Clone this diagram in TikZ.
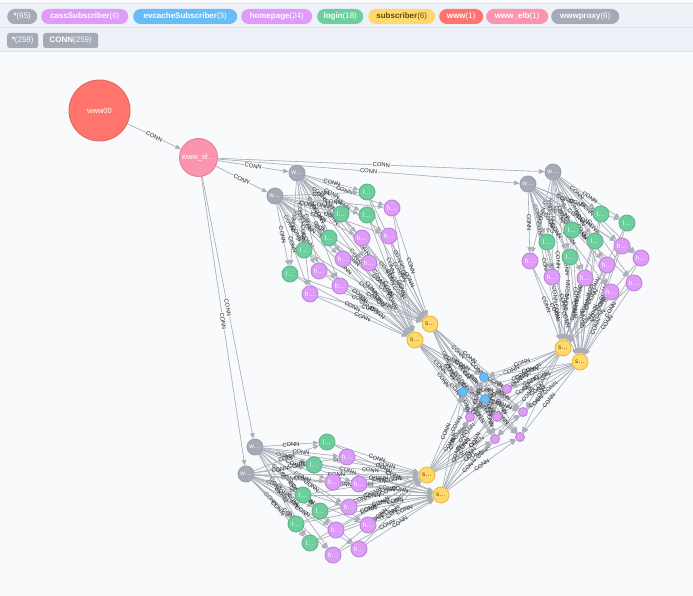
\documentclass[tikz,border=0pt]{standalone}
\usepackage{fontspec}
\setmainfont{Liberation Sans}
\usetikzlibrary{arrows.meta,calc}
\definecolor{bg}{HTML}{F9FAFB}
\definecolor{legbg}{HTML}{EEF1F8}
\definecolor{legline}{HTML}{DCE0E8}
\definecolor{cgray}{HTML}{A5ABB6}\definecolor{bgray}{HTML}{9AA1AC}
\definecolor{cred}{HTML}{FF756E}\definecolor{bred}{HTML}{E06760}
\definecolor{cpink}{HTML}{FB95AF}\definecolor{bpink}{HTML}{E0849B}
\definecolor{cgreen}{HTML}{6DCE9E}\definecolor{bgreen}{HTML}{60B58B}
\definecolor{cpurple}{HTML}{DE9BF9}\definecolor{bpurple}{HTML}{BF85D6}
\definecolor{cyellow}{HTML}{FFD86E}\definecolor{byellow}{HTML}{EDBA39}
\definecolor{cblue}{HTML}{68BDF6}\definecolor{bblue}{HTML}{5CA8DB}
\definecolor{tyellow}{HTML}{604A0E}
\definecolor{edgec}{HTML}{A9AEB8}
\pgfdeclarelayer{bgl}\pgfdeclarelayer{edges}
\pgfsetlayers{bgl,edges,main}
\newcommand\rel[2]{\draw[edge] (#1) -- node[lbl]{CONN} (#2);}
\newcommand\relf[2]{\draw[edge] (#1) -- node[lbl,fill=bg]{CONN} (#2);}
\begin{document}
\begin{tikzpicture}[x=1pt,y=-1pt,
  nd/.style={circle,inner sep=0pt,line width=0.9pt,font=\fontsize{6.5}{7}\selectfont,text=white},
  gw/.style={nd,fill=cgray,draw=bgray,minimum size=16pt},
  gl/.style={nd,fill=cgreen,draw=bgreen,minimum size=16pt},
  ph/.style={nd,fill=cpurple,draw=bpurple,minimum size=16pt},
  ys/.style={nd,fill=cyellow,draw=byellow,minimum size=16pt,text=tyellow},
  bl/.style={nd,fill=cblue,draw=bblue,minimum size=9pt},
  cs/.style={nd,fill=cpurple,draw=bpurple,minimum size=9pt},
  edge/.style={draw=edgec,line width=0.6pt,-{Triangle[length=5.5pt,width=4.5pt]},fill=edgec},
  lbl/.style={sloped,midway,font=\fontsize{5.8}{6}\selectfont,text=black!85,inner sep=0.6pt,fill=none},
  pill/.style={anchor=west,rounded corners=7.5pt,minimum height=15pt,inner sep=0pt,font=\fontsize{8}{9}\selectfont,text=white},
  tpill/.style={pill,rounded corners=2.5pt}]
\useasboundingbox (0,0) rectangle (693,596);
\begin{pgfonlayer}{bgl}
\fill[bg] (0,0) rectangle (693,596);
\fill[legbg] (0,3) rectangle (693,51.5);
\draw[legline,line width=0.8pt] (0,3) -- (693,3) (0,27.5) -- (693,27.5) (0,51.5) -- (693,51.5);
\end{pgfonlayer}
% legend
\node[pill,fill=cgray,minimum width=30pt] (L1) at (7,16.5) {\textbf{*}(65)};
\node[pill,fill=cpurple,minimum width=87pt] (L2) at (41,16.5) {\textbf{cassSubscriber}(6)};
\node[pill,fill=cblue,minimum width=104pt] (L3) at (133,16.5) {\textbf{evcacheSubscriber}(3)};
\node[pill,fill=cpurple,minimum width=71pt] (L4) at (241,16.5) {\textbf{homepage}(24)};
\node[pill,fill=cgreen,minimum width=46pt] (L5) at (317,16.5) {\textbf{login}(18)};
\node[pill,fill=cyellow,minimum width=67pt,text=tyellow] (L6) at (368,16.5) {\textbf{subscriber}(6)};
\node[pill,fill=cred,minimum width=44pt] (L7) at (439,16.5) {\textbf{www}(1)};
\node[pill,fill=cpink,minimum width=62pt] (L8) at (486,16.5) {\textbf{www\_elb}(1)};
\node[pill,fill=cgray,minimum width=68pt] (L9) at (551,16.5) {\textbf{wwwproxy}(6)};
\node[tpill,fill=cgray,minimum width=31pt] (R1) at (7,40.5) {\textbf{*}(259)};
\node[tpill,fill=cgray,minimum width=55pt] (R2) at (43,40.5) {\textbf{CONN}(259)};
% main nodes
\node[nd,fill=cred,draw=bred,minimum size=61pt,font=\fontsize{7.5}{8}\selectfont] (w0) at (99.5,110.5) {www00};
\node[nd,fill=cpink,draw=bpink,minimum size=38pt,font=\fontsize{7.5}{8}\selectfont] (elb) at (198.5,157.5) {www\_el…};
% cluster A
\node[gw] (pA1) at (297,173) {w…};
\node[gw] (pA2) at (275,196) {w…};
\foreach \i/\x/\y in {1/367/192,2/367/215,3/341/214,4/329/238,5/304/250,6/290/274}
  \node[gl] (lA\i) at (\x,\y) {l…};
\foreach \i/\x/\y in {1/392/208,2/389/236,3/362/238,4/343/259,5/369/263,6/319/271,7/340/286,8/310/294}
  \node[ph] (hA\i) at (\x,\y) {h…};
\node[ys] (sA1) at (430,324) {s…};
\node[ys] (sA2) at (415,340) {s…};
% cluster B
\node[gw] (pB1) at (553,172) {w…};
\node[gw] (pB2) at (528,184) {w…};
\foreach \i/\x/\y in {1/601/214,2/627/223,3/572/230,4/595/241,5/547/242,6/570/257}
  \node[gl] (lB\i) at (\x,\y) {l…};
\foreach \i/\x/\y in {1/622/246,2/530/261,3/641/258,4/552/277,5/607/265,6/585/278,7/611/292,8/634/283}
  \node[ph] (hB\i) at (\x,\y) {h…};
\node[ys] (sB1) at (563,348) {s…};
\node[ys] (sB2) at (580,362) {s…};
% cluster C
\node[gw] (pC1) at (255,447) {w…};
\node[gw] (pC2) at (246,474) {w…};
\foreach \i/\x/\y in {1/327/442,2/314/465,3/303/495,4/320/511,5/296/524,6/310/543}
  \node[gl] (lC\i) at (\x,\y) {l…};
\foreach \i/\x/\y in {1/347/457,2/333/482,3/359/484,4/349/507,5/336/530,6/368/525,7/333/555,8/359/549}
  \node[ph] (hC\i) at (\x,\y) {h…};
\node[ys] (sC1) at (427,475) {s…};
\node[ys] (sC2) at (441,495) {s…};
% middle
\foreach \i/\x/\y in {1/484/377,2/463/392,3/485/399}
  \node[bl] (e\i) at (\x,\y) {};
\foreach \i/\x/\y in {1/507/389,2/470/417,3/497/417,4/523/412,5/495/439,6/520/437}
  \node[cs] (c\i) at (\x,\y) {};
% edges
\begin{pgfonlayer}{edges}
\relf{w0}{elb}
\foreach \k in {A,B,C}{\foreach \p in {1,2}{\relf{elb}{p\k\p}}}
\foreach \k in {A,B,C}{
  \foreach \p in {1,2}{
    \foreach \i in {1,...,6}{\rel{p\k\p}{l\k\i}}
    \foreach \i in {1,...,8}{\rel{p\k\p}{h\k\i}}
    \foreach \s in {1,2}{\rel{p\k\p}{s\k\s}}
  }
  \foreach \s in {1,2}{
    \foreach \i in {1,...,6}{\rel{l\k\i}{s\k\s}}
    \foreach \i in {1,...,8}{\rel{h\k\i}{s\k\s}}
    \foreach \e in {1,2,3}{\rel{s\k\s}{e\e}}
    \foreach \c in {1,...,6}{\rel{s\k\s}{c\c}}
  }
}
\foreach \e in {1,2,3}{\foreach \c in {1,...,6}{\rel{e\e}{c\c}}}
\end{pgfonlayer}
\end{tikzpicture}
\end{document}
